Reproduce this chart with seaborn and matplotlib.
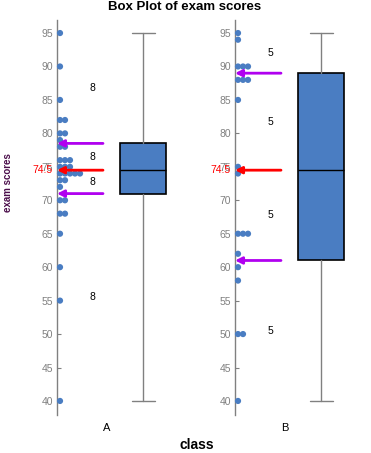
import numpy as np
import pandas as pd
import matplotlib
matplotlib.use("Agg")
import matplotlib.pyplot as plt
import matplotlib.cbook as cbook
import seaborn as sns

### Data

classes = ["A", "B"]
scores_a = [95, 90, 85, 82, 82, 80, 80, 79, 78, 78, 76, 76, 76, 75, 75, 75,
            74, 74, 74, 74, 74, 73, 73, 72, 70, 70, 68, 68, 65, 60, 55, 40]
scores_b = [95, 94, 90, 90, 90, 88, 88, 88, 85, 75,
            74, 65, 65, 65, 62, 60, 58, 50, 50, 40]
y_ticks = list(range(40, 100, 5))

sns.set_style("white")
plt.rcParams['font.family'] = ['Liberation Sans', 'DejaVu Sans']
plt.rcParams['text.color'] = 'black'

W, H = 371, 453
dot_color = '#4A7DC2'
box_color = '#4A7DC2'
magenta = '#B000F0'
gray = '#808080'

fig = plt.figure(figsize=(W / 100, H / 100), dpi=100)

for i, (cls, scores) in enumerate(zip(classes, [scores_a, scores_b])):
    # one panel per class, x axis in pixels from the panel's spine
    left = 57 + 178 * i
    ax = fig.add_axes([left / W, 38 / H, 178 / W, 395 / H])
    ax.set_xlim(0, 178)
    ax.set_ylim(37.9, 96.95)

    # stacked dot plot next to the axis
    df = pd.DataFrame({'score': scores})
    df['stack'] = df.groupby('score').cumcount()
    df['x'] = 3 + 5 * df['stack']
    sns.scatterplot(data=df, x='x', y='score', ax=ax, s=20, color=dot_color,
                    edgecolor='none', linewidth=0, zorder=3, clip_on=False)

    # box with whiskers to min / max, hinges from midpoint percentiles
    stats = cbook.boxplot_stats(np.array(scores, dtype=float), whis=(0, 100))[0]
    q1, q3 = np.percentile(scores, [25, 75], method='midpoint')
    stats['q1'], stats['q3'] = q1, q3
    med, mn, mx = stats['med'], stats['whislo'], stats['whishi']
    ax.bxp([stats], positions=[86], widths=46, capwidths=23, showfliers=False,
           patch_artist=True,
           boxprops=dict(facecolor=box_color, edgecolor='black', linewidth=1.2),
           medianprops=dict(color='black', linewidth=1),
           whiskerprops=dict(color=gray, linewidth=1),
           capprops=dict(color=gray, linewidth=1))

    # quartile arrows and median label
    for q, c in [(q3, magenta), (q1, magenta), (med, 'red')]:
        ax.annotate('', xy=(0, q), xytext=(46, q),
                    arrowprops=dict(arrowstyle='-|>,head_length=0.4,head_width=0.2',
                                    color=c, lw=2, shrinkA=0, shrinkB=0),
                    annotation_clip=False, zorder=4)
    ax.text(-4, med, f'{med:g}', ha='right', va='center', color='red',
            fontsize=7.5, clip_on=False)

    # count of points in each quarter
    n_quarter = len(scores) // 4
    for m in [(mx + q3) / 2, (q3 + med) / 2, (med + q1) / 2, (q1 + mn) / 2]:
        ax.text(35, m, str(n_quarter), ha='center', va='center', fontsize=7.5,
                color='black')

    ax.set_yticks(y_ticks)
    ax.tick_params(axis='y', direction='in', length=3, color=gray,
                   labelcolor=gray, labelsize=7.5, pad=3, left=True)
    ax.set_xticks([50])
    ax.set_xticklabels([cls])
    ax.tick_params(axis='x', length=0, labelsize=8, pad=6, labelcolor='black')
    ax.set_xlabel('')
    ax.set_ylabel('')
    for s in ['top', 'right', 'bottom']:
        ax.spines[s].set_visible(False)
    ax.spines['left'].set_color(gray)
    ax.spines['left'].set_linewidth(1)

fig.text(185 / W, 1 - 7 / H, 'Box Plot of exam scores', ha='center', va='center',
         fontweight='bold', fontsize=9.5, color='black')
fig.text(197 / W, 1 - 445 / H, 'class', ha='center', va='center',
         fontweight='bold', fontsize=10, color='black')
fig.text(8 / W, 1 - 183 / H, 'exam scores', ha='center', va='center', rotation=90,
         fontweight='bold', fontsize=7, color='#4B0E4B')

fig.savefig('out.png', dpi=100)
